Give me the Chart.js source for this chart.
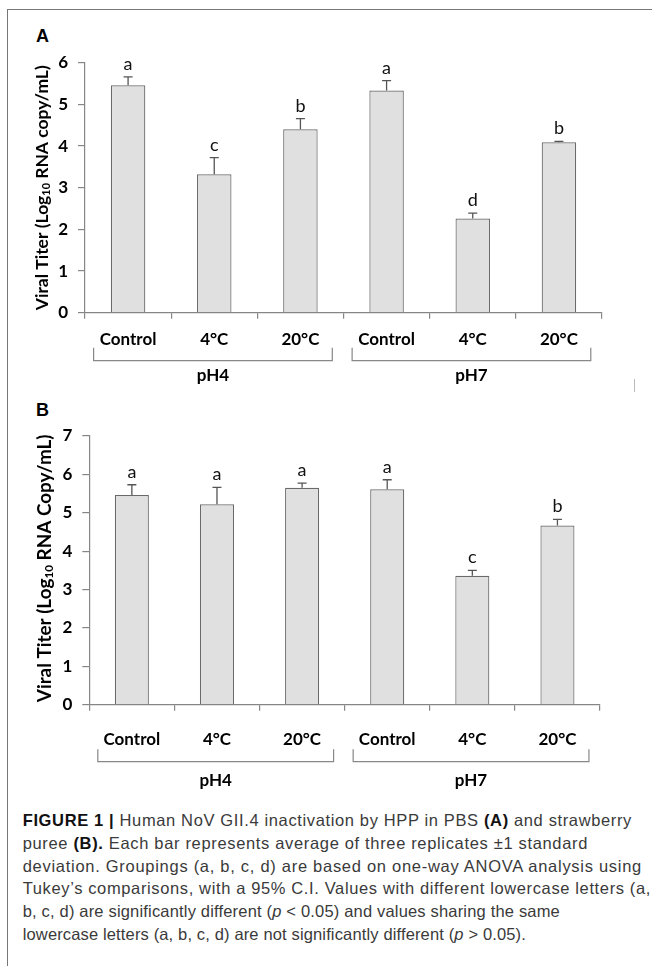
<!DOCTYPE html>
<html>
<head>
<meta charset="utf-8">
<script src="https://cdn.jsdelivr.net/npm/chart.js@4"></script>
<style>
  html,body{margin:0;padding:0;background:#fff;}
  body{width:652px;height:966px;position:relative;overflow:hidden;}
  .frameTop{position:absolute;left:7px;top:9px;width:645px;height:0;border-top:1.5px solid #777;}
  .frameLeft{position:absolute;left:7px;top:9px;width:0;height:957px;border-left:1.5px solid #777;}
  .panel{position:absolute;font-family:"Liberation Sans",Arial,sans-serif;font-weight:bold;font-size:18px;color:#000;line-height:1;}
  .box{position:absolute;left:0;width:652px;}
  .caption{position:absolute;left:22.7px;top:809px;font-family:"Liberation Sans",Arial,sans-serif;font-weight:400;font-size:16.5px;line-height:22.8px;color:#3a3a3a;}
  .caption div{white-space:nowrap;}
  .caption b{font-weight:700;color:#111;}
  .stray{position:absolute;left:634px;top:379px;width:0;height:13px;border-left:1px solid #bbb;}
</style>
</head>
<body>
<div class="frameTop"></div>
<div class="frameLeft"></div>
<div class="stray"></div>
<div class="panel" style="left:36px;top:26.7px;">A</div>
<div class="panel" style="left:36px;top:400.7px;">B</div>
<div class="box" style="top:0;height:395px;"><canvas id="chartA"></canvas></div>
<div class="box" style="top:395px;height:400px;"><canvas id="chartB"></canvas></div>
<div class="caption" id="caption">
  <div><b>FIGURE 1 |</b> Human NoV GII.4 inactivation by HPP in PBS <b>(A)</b> and strawberry</div>
  <div>puree <b>(B).</b> Each bar represents average of three replicates ±1 standard</div>
  <div>deviation. Groupings (a, b, c, d) are based on one-way ANOVA analysis using</div>
  <div>Tukey’s comparisons, with a 95% C.I. Values with different lowercase letters (a,</div>
  <div>b, c, d) are significantly different (<i>p</i> &lt; 0.05) and values sharing the same</div>
  <div>lowercase letters (a, b, c, d) are not significantly different (<i>p</i> &gt; 0.05).</div>
</div>
<script>
// ---------- data ----------
const categories = ['Control', '4°C', '20°C', 'Control', '4°C', '20°C'];
const groupNames = ['pH4', 'pH7'];
const groupStart = [0, 3];
const groupEnd = [2, 5];

const meanA = [5.46, 3.32, 4.40, 5.33, 2.26, 4.09];
const sdA = [0.20, 0.40, 0.26, 0.24, 0.13, 0.02];
const lettersA = ['a', 'c', 'b', 'a', 'd', 'b'];

const meanB = [5.46, 5.22, 5.65, 5.61, 3.36, 4.67];
const sdB = [0.27, 0.44, 0.12, 0.25, 0.14, 0.16];
const lettersB = ['a', 'a', 'a', 'a', 'c', 'b'];

const yMaxA = 6;
const yMaxB = 7;
const yTitleA = ['Viral Titer (Log', '10', ' RNA copy/mL)'];
const yTitleB = ['Viral Titer (Log', '10', ' RNA Copy/mL)'];

// ---------- plugin ----------
const decor = {
  id: 'decor',
  afterDatasetsDraw(chart, args, o) {
    const ctx = chart.ctx;
    const x = chart.scales.x, y = chart.scales.y;
    const ds = chart.data.datasets[0];
    const meta = chart.getDatasetMeta(0);
    ctx.save();
    // error bars + letters
    meta.data.forEach((bar, i) => {
      const top = y.getPixelForValue(ds.data[i] + o.sd[i]);
      ctx.strokeStyle = '#555';
      ctx.lineWidth = 1.3;
      ctx.beginPath();
      ctx.moveTo(bar.x, bar.y);
      ctx.lineTo(bar.x, top);
      ctx.moveTo(bar.x - 4.5, top);
      ctx.lineTo(bar.x + 4.5, top);
      ctx.stroke();
      ctx.fillStyle = '#111';
      ctx.font = '18px Lato';
      ctx.textAlign = 'center';
      ctx.textBaseline = 'alphabetic';
      ctx.fillText(o.letters[i], bar.x, top - 7);
    });
    // group brackets
    const cw = x.getPixelForValue(1) - x.getPixelForValue(0);
    const axisY = x.top;
    groupNames.forEach((g, k) => {
      const x0 = x.getPixelForValue(groupStart[k]) - 0.4 * cw;
      const x1 = x.getPixelForValue(groupEnd[k]) + 0.37 * cw;
      const by = axisY + o.bracketY;
      ctx.strokeStyle = '#888';
      ctx.lineWidth = 1.2;
      ctx.beginPath();
      ctx.moveTo(x0, by - o.bracketH);
      ctx.lineTo(x0, by);
      ctx.lineTo(x1, by);
      ctx.lineTo(x1, by - o.bracketH);
      ctx.stroke();
      ctx.fillStyle = '#000';
      ctx.font = 'bold 17px Lato';
      ctx.textAlign = 'center';
      ctx.textBaseline = 'middle';
      ctx.fillText(g, (x0 + x1) / 2, axisY + o.groupY);
    });
    // y title with subscript
    const parts = o.title;
    const base = 16;
    const measure = (fs) => {
      ctx.font = 'bold ' + fs + 'px Lato';
      const a = ctx.measureText(parts[0]).width;
      const c = ctx.measureText(parts[2]).width;
      ctx.font = 'bold ' + (fs * 0.62) + 'px Lato';
      const b = ctx.measureText(parts[1]).width;
      return a + b + c;
    };
    const fs = base * o.titleLen / measure(base);
    const total = measure(fs);
    const cy = (y.getPixelForValue(0) + y.getPixelForValue(o.yMax)) / 2 + o.titleDy;
    ctx.translate(o.titleX, cy);
    ctx.rotate(-Math.PI / 2);
    ctx.fillStyle = '#000';
    ctx.textAlign = 'left';
    ctx.textBaseline = 'middle';
    let px = -total / 2;
    ctx.font = 'bold ' + fs + 'px Lato';
    ctx.fillText(parts[0], px, 0);
    px += ctx.measureText(parts[0]).width;
    ctx.font = 'bold ' + (fs * 0.62) + 'px Lato';
    ctx.fillText(parts[1], px, 4);
    px += ctx.measureText(parts[1]).width;
    ctx.font = 'bold ' + fs + 'px Lato';
    ctx.fillText(parts[2], px, 0);
    ctx.restore();
  }
};

function makeChart(id, means, sds, letters, yMax, cfg) {
  return new Chart(document.getElementById(id), {
    type: 'bar',
    data: {
      labels: categories,
      datasets: [{
        data: means,
        backgroundColor: '#e0e0e0',
        borderColor: '#6a6a6a',
        borderWidth: 1.2,
        barPercentage: 0.4,
        categoryPercentage: 1.0
      }]
    },
    options: {
      responsive: true,
      maintainAspectRatio: false,
      animation: false,
      devicePixelRatio: 1,
      layout: { padding: { left: 0, right: cfg.padRight, top: cfg.padTop, bottom: 0 } },
      plugins: {
        legend: { display: false },
        tooltip: { enabled: false },
        decor: {
          sd: sds, letters: letters, yMax: yMax,
          bracketY: cfg.bracketY, bracketH: cfg.bracketH, groupY: cfg.groupY,
          title: cfg.title, titleLen: cfg.titleLen, titleX: cfg.titleX, titleDy: cfg.titleDy
        }
      },
      scales: {
        x: {
          afterFit(s) { s.height = cfg.xHeight; },
          grid: { display: true, drawOnChartArea: false, drawTicks: true, tickLength: 6, offset: true, color: '#868686', lineWidth: 1.2 },
          border: { display: true, color: '#868686', width: 1.2 },
          ticks: { color: '#000', font: { family: 'Lato', weight: 'bold', size: 17 }, padding: cfg.xPad, maxRotation: 0, autoSkip: false }
        },
        y: {
          min: 0, max: yMax,
          afterFit(s) { s.width = cfg.yWidth; },
          grid: { display: true, drawOnChartArea: false, drawTicks: true, tickLength: 7, color: '#868686', lineWidth: 1.2 },
          border: { display: true, color: '#868686', width: 1.2 },
          ticks: { stepSize: 1, color: '#000', font: { family: 'Lato', weight: 'bold', size: 17 }, padding: 10 }
        }
      }
    },
    plugins: [decor]
  });
}

makeChart('chartA', meanA, sdA, lettersA, yMaxA, {
  padRight: 50, padTop: 62.7, xHeight: 82.3, yWidth: 85, xPad: 11,
  bracketY: 48, bracketH: 13, groupY: 63,
  title: yTitleA, titleLen: 245, titleX: 42, titleDy: 0
});
makeChart('chartB', meanB, sdB, lettersB, yMaxB, {
  padRight: 52, padTop: 41, xHeight: 90.3, yWidth: 89.3, xPad: 19,
  bracketY: 57, bracketH: 12.5, groupY: 76,
  title: yTitleB, titleLen: 268, titleX: 45, titleDy: -2
});

// fit caption lines to reference widths
const lineEnds = [632, 588, 642, 651, 560, 526];
document.fonts.ready.then(() => {
  const lines = document.querySelectorAll('#caption div');
  lines.forEach((d, i) => {
    const target = lineEnds[i] - 22.7;
    const span = document.createElement('span');
    while (d.firstChild) span.appendChild(d.firstChild);
    d.appendChild(span);
    const w2 = span.getBoundingClientRect().width;
    const n = span.textContent.length;
    span.style.letterSpacing = ((target - w2) / n) + 'px';
  });
});
</script>
</body>
</html>
